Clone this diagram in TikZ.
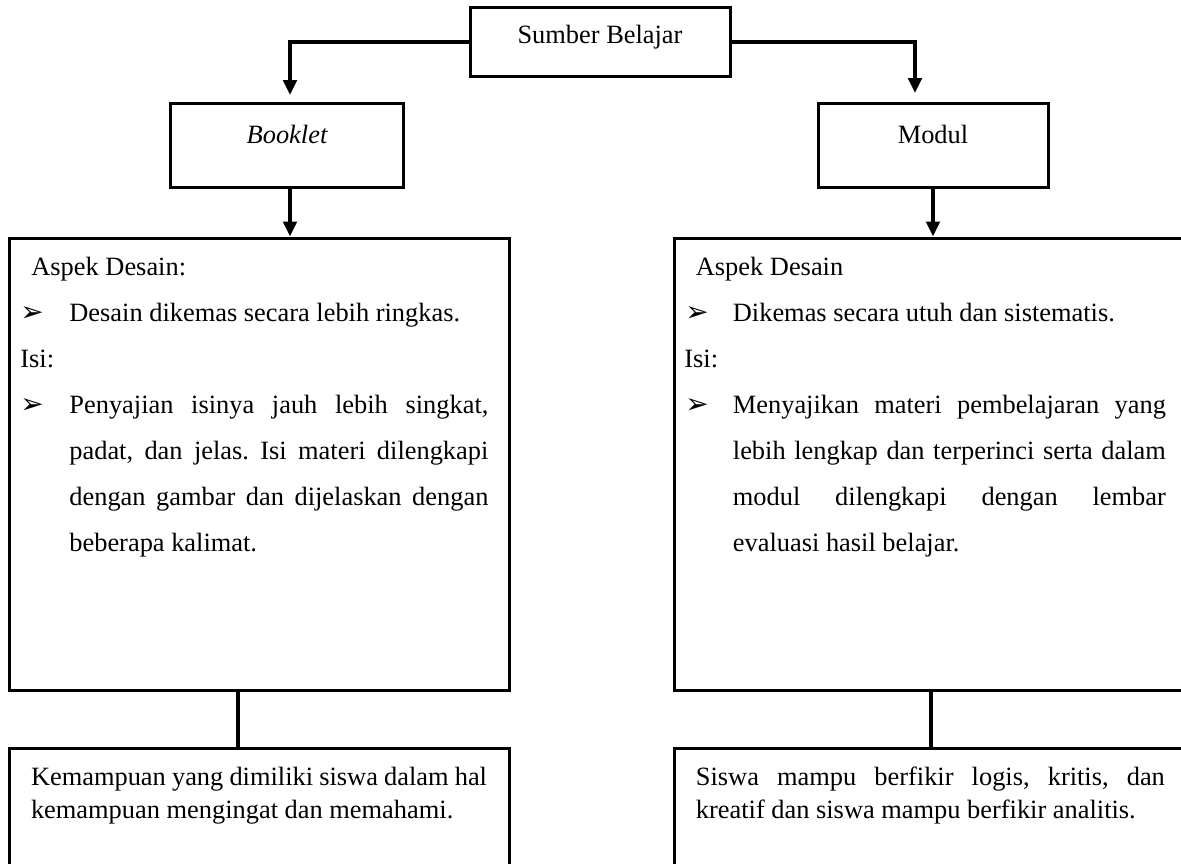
\documentclass[tikz,border=0pt]{standalone}
\usepackage{fontspec}
\setmainfont{Liberation Serif}
\newfontfamily\symfont{DejaVu Sans}
\usetikzlibrary{arrows.meta,fit}
\frenchspacing
\tikzset{
  bx/.style={draw, rectangle, line width=1.5pt, inner sep=0pt},
  conn/.style={line width=2pt},
  arr/.style={conn, -{Triangle[length=7.5pt,width=6.7pt]}},
  txt/.style={inner sep=0pt, anchor=base west, font=\fontsize{13.2}{16}\selectfont},
  ttl/.style={inner sep=0pt, anchor=base, font=\fontsize{13.2}{16}\selectfont},
  bul/.style={inner sep=0pt, anchor=base west, font=\symfont\fontsize{14}{16}\selectfont}
}
\newcommand{\jl}[2]{\makebox[#1][s]{#2}}
\begin{document}
\begin{tikzpicture}[x=0.5pt,y=-0.5pt]
\clip (0,0) rectangle (1181,863);
% boxes
\node[bx, fit={(470,7) (730,76)}] (src) {};
\node[bx, fit={(170,103) (403,187)}] (booklet) {};
\node[bx, fit={(818,103) (1048,187)}] (modul) {};
\node[bx, fit={(9.6,238) (509,690)}] (lbig) {};
\node[bx, fit={(674,238) (1200,690)}] (rbig) {};
\node[bx, fit={(9.6,748) (509,900)}] (lbot) {};
\node[bx, fit={(674,748) (1200,900)}] (rbot) {};
% titles
\node[ttl] (tsrc) at (600,43) {Sumber Belajar};
\node[ttl] (tbook) at (287,143) {\itshape Booklet};
\node[ttl] (tmod) at (933,143) {Modul};
% connector anchor points
\coordinate (bkin) at (290,103);
\coordinate (mdin) at (915,103);
\coordinate (lj) at (238,700);
\coordinate (rj) at (931,700);
% connectors
\draw[arr, shorten >=4pt] (src.west) -| (bkin);
\draw[arr, shorten >=5pt] (src.east) -| (mdin);
\draw[arr] (booklet.south -| bkin) -- (lbig.north -| bkin);
\draw[arr] (modul.south) -- (modul.south |- rbig.north);
\draw[conn] (lbig.south -| lj) -- (lbot.north -| lj);
\draw[conn] (rbig.south -| rj) -- (rbot.north -| rj);
% left big box text
\node[txt] (la1) at (31,275) {Aspek Desain:};
\node[bul] (lb1) at (20,321) {➢};
\node[txt] (la2) at (69,321) {Desain dikemas secara lebih ringkas.};
\node[txt] (la3) at (20,367) {Isi:};
\node[bul] (lb2) at (20,413) {➢};
\node[txt] (la4) at (69,413) {\jl{209.5pt}{Penyajian isinya jauh lebih singkat,}};
\node[txt] (la5) at (69,459) {\jl{209.5pt}{padat, dan jelas. Isi materi dilengkapi}};
\node[txt] (la6) at (69,505) {\jl{209.5pt}{dengan gambar dan dijelaskan dengan}};
\node[txt] (la7) at (69,551) {beberapa kalimat.};
% right big box text
\node[txt] (ra1) at (695.5,275) {Aspek Desain};
\node[bul] (rb1) at (685,321) {➢};
\node[txt] (ra2) at (732.5,321) {Dikemas secara utuh dan sistematis.};
\node[txt] (ra3) at (684,367) {Isi:};
\node[bul] (rb2) at (685,413) {➢};
\node[txt] (ra4) at (732.5,413) {\jl{216.5pt}{Menyajikan materi pembelajaran yang}};
\node[txt] (ra5) at (732.5,459) {\jl{216.5pt}{lebih lengkap dan terperinci serta dalam}};
\node[txt] (ra6) at (732.5,505) {\jl{216.5pt}{modul dilengkapi dengan lembar}};
\node[txt] (ra7) at (732.5,551) {evaluasi hasil belajar.};
% bottom texts
\node[txt] (lc1) at (30.6,785) {\jl{228pt}{Kemampuan yang dimiliki siswa dalam hal}};
\node[txt] (lc2) at (30.6,818) {kemampuan mengingat dan memahami.};
\node[txt] (rc1) at (695.5,785) {\jl{234.5pt}{Siswa mampu berfikir logis, kritis, dan}};
\node[txt] (rc2) at (695.5,818) {kreatif dan siswa mampu berfikir analitis.};
\end{tikzpicture}
\end{document}
